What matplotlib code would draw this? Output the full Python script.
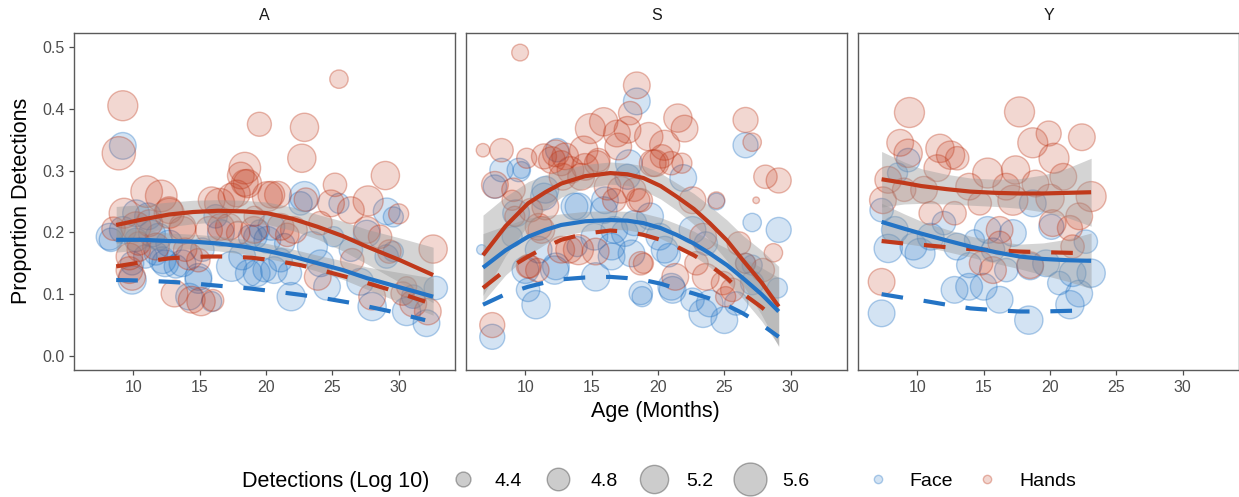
import numpy as np
import matplotlib
matplotlib.use("Agg")
import matplotlib.pyplot as plt
from matplotlib.lines import Line2D

plt.rcParams['font.family'] = ['Liberation Sans', 'DejaVu Sans']

# ---------------- data ----------------
panels = ["A", "S", "Y"]
x_ticks = [10, 15, 20, 25, 30]
y_ticks = [0.0, 0.1, 0.2, 0.3, 0.4, 0.5]
size_breaks = [4.4, 4.8, 5.2, 5.6]
groups = ["Face", "Hands"]

# Panel A
A_hands_age = [9.2, 8.9, 25.5, 19.5, 22.9, 22.7, 18.4, 18.1, 18.6, 11.0, 12.1, 29.0, 25.2, 17.8, 20.1, 20.9, 27.7, 32.6,
               30.0, 26.4, 24.9, 23.0, 9.3, 16.5, 8.5, 12.7, 10.2, 13.7, 15.7, 17.2, 19.1, 22.1, 21.6, 28.6, 27.6, 9.7,
               9.9, 10.4, 11.7, 14.9, 13.1, 15.1, 16.0, 23.9, 26.5, 28.0, 31.1, 32.2, 30.3, 29.3, 30.6, 13.9, 19.1, 24.1,
               12.7, 11.2, 13.7, 10.4, 14.2, 9.7, 14.4, 15.9, 17.4, 18.4, 20.4, 16.6, 17.9, 21.1]
A_hands_prop = [0.405, 0.328, 0.448, 0.375, 0.370, 0.320, 0.304, 0.292, 0.279, 0.266, 0.259, 0.292, 0.277, 0.263, 0.258,
                0.261, 0.251, 0.173, 0.230, 0.236, 0.247, 0.253, 0.231, 0.247, 0.206, 0.231, 0.209, 0.204, 0.204, 0.209,
                0.204, 0.204, 0.196, 0.193, 0.204, 0.161, 0.128, 0.182, 0.177, 0.155, 0.101, 0.088, 0.090, 0.128, 0.155,
                0.096, 0.085, 0.072, 0.101, 0.169, 0.112, 0.172, 0.226, 0.215,
                0.236, 0.215, 0.209, 0.172, 0.161, 0.139, 0.091, 0.252, 0.258, 0.280, 0.261, 0.209, 0.199, 0.209]
A_hands_det = [5.34, 5.63, 4.56, 4.89, 5.20, 5.20, 5.48, 5.08, 5.20, 5.48, 5.48, 5.20, 4.85, 5.08, 5.34, 5.08, 5.34, 5.20,
               4.65, 5.08, 5.08, 4.85, 5.34, 5.34, 4.85, 5.34, 5.34, 5.08, 5.08, 5.08, 5.08, 5.08, 4.85, 4.85, 5.08, 5.08,
               5.08, 4.85, 5.08, 4.85, 5.08, 5.20, 4.74, 5.08, 4.85, 5.08, 5.08, 5.08, 4.85, 4.85, 4.65, 4.85, 4.65, 4.85,
               5.08, 5.08, 5.08, 4.85, 5.08, 5.08, 5.08, 5.08, 5.08, 5.08, 5.08, 5.08, 4.85, 5.08]
A_face_age = [9.2, 8.3, 9.9, 9.2, 11.1, 12.2, 13.2, 14.9, 14.2, 15.9, 17.4, 18.2, 19.3, 20.6, 21.8, 21.9, 22.9, 22.6, 23.5,
              24.6, 24.1, 26.4, 25.5, 29.1, 29.1, 29.6, 27.1, 28.0, 30.6, 32.1, 32.8, 31.1, 29.6, 10.2, 11.4, 12.7, 15.2,
              16.2, 18.8, 20.1, 21.1, 21.4, 19.5, 25.1, 27.6, 9.9, 11.7,
              8.2, 10.2, 11.9, 10.9, 12.4, 13.7, 14.9, 18.7, 19.9, 16.6, 19.2, 20.4]
A_face_prop = [0.340, 0.188, 0.123, 0.204, 0.226, 0.155, 0.145, 0.123, 0.096, 0.088, 0.145, 0.161, 0.134, 0.139, 0.134,
               0.096, 0.258, 0.247, 0.177, 0.112, 0.150, 0.172, 0.247, 0.234, 0.161, 0.225, 0.120, 0.080, 0.072, 0.053,
               0.110, 0.096, 0.169, 0.188, 0.198, 0.182, 0.172, 0.226, 0.193, 0.188, 0.155, 0.182, 0.204, 0.193, 0.198,
               0.150, 0.166,
               0.193, 0.231, 0.193, 0.161, 0.150, 0.150, 0.128, 0.134, 0.139, 0.199, 0.193, 0.209]
A_face_det = [5.08, 4.85, 5.20, 5.08, 5.08, 5.08, 4.85, 5.08, 5.08, 4.65, 5.34, 5.08, 5.08, 5.08, 4.85, 5.20, 5.34, 4.85,
              5.34, 5.08, 5.08, 4.85, 4.65, 5.08, 4.85, 4.65, 5.08, 5.20, 5.20, 5.08, 4.85, 4.85, 4.65, 4.85, 5.08, 5.08,
              4.85, 4.85, 4.85, 5.08, 4.85, 4.65, 4.65, 4.65, 5.08, 4.85, 4.85,
              5.08, 5.08, 5.08, 4.85, 5.08, 5.08, 5.08, 5.08, 4.85, 5.08, 4.85, 5.08]

# Panel S
S_hands_age = [9.6, 6.8, 8.2, 10.1, 7.7, 9.1, 7.5, 18.4, 14.9, 15.9, 16.9, 17.7, 17.9, 19.3, 21.5, 22.0, 20.5, 26.6, 27.1,
               28.1, 29.1, 27.4, 28.7, 11.4, 12.3, 12.7, 13.4, 14.4, 15.4, 14.2, 16.2, 16.7, 18.2, 18.7, 19.6, 20.3, 21.0,
               21.8, 22.6, 24.4, 23.4, 10.4, 11.2, 12.7, 14.0, 15.3, 10.2, 10.9, 18.9, 21.3, 22.9, 23.6, 24.9, 25.6, 26.1,
               26.6, 27.9, 25.1, 9.0, 9.2,
               12.0, 13.0, 14.5, 15.5, 17.0, 19.8, 12.8, 17.2, 18.5, 11.5, 11.0, 13.3, 10.3, 18.7]
S_hands_prop = [0.491, 0.333, 0.333, 0.320, 0.277, 0.269, 0.050, 0.438, 0.368, 0.379, 0.360, 0.366, 0.393, 0.355, 0.385,
                0.368, 0.341, 0.382, 0.346, 0.290, 0.284, 0.252, 0.167, 0.323, 0.328, 0.312, 0.301, 0.333, 0.312, 0.290,
                0.274, 0.252, 0.269, 0.252, 0.312, 0.323, 0.312, 0.312, 0.252, 0.252, 0.193, 0.236, 0.204, 0.172, 0.172,
                0.169, 0.145, 0.139, 0.150, 0.128, 0.150, 0.128, 0.118, 0.107, 0.182, 0.150, 0.139, 0.096, 0.252, 0.226,
                0.317, 0.323, 0.306, 0.317, 0.339, 0.312, 0.290, 0.269, 0.252, 0.242, 0.209, 0.172, 0.145, 0.150]
S_hands_det = [4.48, 4.34, 4.85, 4.65, 5.08, 4.85, 4.96, 5.08, 5.34, 5.20, 5.08, 5.08, 4.85, 5.20, 5.20, 5.08, 5.34, 4.96,
               4.56, 4.85, 4.96, 4.15, 4.56, 4.96, 5.08, 4.96, 5.08, 5.20, 4.96, 5.08, 5.08, 4.85, 4.85, 4.85, 5.08, 4.85,
               4.85, 4.65, 5.08, 4.48, 5.08, 4.85, 5.08, 5.08, 5.34, 5.08, 4.85, 4.85, 4.65, 5.08, 4.85, 5.08, 4.85, 4.85,
               4.85, 4.65, 4.85, 4.65, 4.65, 4.65,
               5.08, 5.08, 5.08, 4.85, 5.08, 5.08, 5.08, 5.08, 4.85, 5.08, 5.08, 5.08, 4.85, 4.85]
S_face_age = [18.4, 26.6, 27.1, 29.1, 7.5, 6.7, 8.2, 7.7, 9.7, 12.4, 17.7, 21.9, 11.4, 9.3, 13.7, 15.9, 16.7, 15.2, 18.2,
              19.4, 20.8, 18.0, 16.5, 10.0, 12.2, 10.8, 10.2, 15.3, 18.8, 21.1, 22.6, 23.4, 23.9, 25.0, 25.9, 26.6, 27.1,
              29.0, 20.1, 22.6, 23.6, 24.4, 27.1, 9.0, 13.9,
              9.5, 11.5, 14.0, 16.0, 17.8, 17.5, 16.5, 11.0, 12.3, 18.7, 20.5, 21.0]
S_face_prop = [0.412, 0.341, 0.216, 0.204, 0.031, 0.172, 0.301, 0.274, 0.301, 0.333, 0.290, 0.288, 0.258, 0.231, 0.242,
               0.236, 0.204, 0.193, 0.215, 0.226, 0.163, 0.166, 0.177, 0.139, 0.139, 0.083, 0.107, 0.128, 0.096, 0.107,
               0.091, 0.069, 0.085, 0.058, 0.085, 0.150, 0.118, 0.110, 0.193, 0.204, 0.182, 0.250, 0.147, 0.193, 0.177,
               0.301, 0.269, 0.242, 0.252, 0.312, 0.199, 0.161, 0.172, 0.145, 0.102, 0.172, 0.112]
S_face_det = [5.08, 4.96, 4.56, 4.96, 4.96, 4.23, 4.85, 4.85, 4.48, 4.85, 4.96, 5.08, 5.08, 5.08, 5.08, 5.08, 5.08, 5.08,
              4.96, 5.08, 4.85, 5.08, 5.08, 5.08, 5.20, 5.20, 4.85, 5.20, 4.65, 5.08, 4.85, 5.20, 5.08, 5.08, 4.85, 4.65,
              4.85, 4.65, 5.08, 5.08, 4.85, 4.48, 4.65, 4.65, 4.65,
              4.85, 5.08, 5.08, 5.08, 5.08, 5.08, 5.08, 5.08, 5.08, 4.85, 5.08, 5.08]

# Panel Y
Y_hands_age = [9.4, 17.7, 22.4, 19.9, 18.7, 20.3, 8.7, 11.7, 12.5, 13.0, 9.3, 11.5, 15.3, 17.4, 7.3, 7.8, 7.4, 10.5, 13.9,
               14.7, 16.7, 17.2, 18.9, 20.0, 21.0, 23.1, 22.2, 21.5, 20.2, 21.7, 16.2, 15.7, 14.8, 18.5, 11.0, 12.8, 9.0,
               16.2]
Y_hands_prop = [0.394, 0.395, 0.354, 0.360, 0.345, 0.320, 0.345, 0.336, 0.325, 0.320, 0.328, 0.304, 0.296, 0.301, 0.120,
                0.285, 0.252, 0.269, 0.274, 0.247, 0.274, 0.252, 0.279, 0.255, 0.290, 0.258, 0.226, 0.207, 0.215, 0.177,
                0.204, 0.139, 0.150, 0.147, 0.231, 0.231, 0.269, 0.183]
Y_hands_det = [5.34, 5.34, 5.08, 4.96, 5.34, 5.34, 5.08, 5.20, 5.20, 4.85, 5.20, 5.08, 5.34, 5.20, 5.08, 5.08, 5.08, 5.08,
               5.08, 4.85, 5.08, 5.34, 5.08, 5.20, 5.08, 5.34, 5.08, 4.96, 5.08, 4.85, 5.08, 5.08, 4.85, 5.08, 4.85, 4.85,
               4.85, 4.85]
Y_face_age = [7.3, 18.4, 21.5, 7.8, 7.3, 8.3, 10.2, 9.7, 9.3, 11.0, 13.0, 12.8, 13.9, 15.0, 16.2, 13.9, 15.3, 17.2, 18.5,
              19.7, 20.7, 21.7, 22.2, 23.1, 22.7, 18.7, 20.1, 12.0, 14.3, 16.7, 15.7, 8.5]
Y_face_prop = [0.069, 0.058, 0.083, 0.174, 0.236, 0.204, 0.166, 0.177, 0.317, 0.193, 0.177, 0.107, 0.112, 0.112, 0.091,
               0.147, 0.204, 0.199, 0.145, 0.150, 0.118, 0.134, 0.101, 0.134, 0.185, 0.247, 0.209, 0.215, 0.188, 0.139,
               0.172, 0.296]
Y_face_det = [5.08, 5.20, 5.20, 5.20, 4.85, 5.08, 5.34, 5.08, 4.85, 5.08, 5.08, 5.08, 5.08, 5.08, 5.08, 4.96, 5.08, 5.08,
              5.08, 5.08, 4.85, 5.08, 5.08, 5.20, 4.85, 5.08, 4.96, 4.85, 4.65, 4.85, 4.85, 4.65]

# Fitted curves (solid, with confidence band) and model predictions (dashed)
A_fit_age = [8.7, 10.7, 12.7, 14.5, 16.4, 18.3, 20.1, 22.0, 23.9, 25.8, 27.6, 30.1, 32.6]
A_hands_fit = [0.212, 0.221, 0.229, 0.233, 0.235, 0.234, 0.231, 0.222, 0.209, 0.194, 0.177, 0.155, 0.131]
A_hands_se = [0.030, 0.024, 0.020, 0.019, 0.018, 0.018, 0.018, 0.019, 0.020, 0.024, 0.028, 0.036, 0.045]
A_face_fit = [0.188, 0.188, 0.186, 0.185, 0.182, 0.177, 0.170, 0.161, 0.150, 0.139, 0.126, 0.111, 0.096]
A_face_se = [0.020, 0.016, 0.013, 0.012, 0.012, 0.012, 0.012, 0.012, 0.013, 0.015, 0.018, 0.024, 0.030]
A_pred_age = [8.7, 10.7, 12.7, 14.2, 15.7, 17.3, 18.9, 20.8, 22.6, 24.5, 26.4, 29.2, 32.0]
A_hands_pred = [0.145, 0.152, 0.158, 0.160, 0.161, 0.161, 0.159, 0.154, 0.147, 0.137, 0.126, 0.108, 0.088]
A_face_pred = [0.123, 0.122, 0.120, 0.118, 0.115, 0.112, 0.109, 0.104, 0.099, 0.093, 0.086, 0.073, 0.058]

S_fit_age = [6.8, 8.5, 10.2, 11.5, 12.7, 14.5, 16.4, 17.7, 18.9, 20.2, 21.4, 22.7, 23.9, 25.2, 26.4, 27.8, 29.1]
S_hands_fit = [0.163, 0.210, 0.247, 0.265, 0.279, 0.291, 0.296, 0.294, 0.288, 0.275, 0.258, 0.238, 0.215, 0.187, 0.155,
               0.119, 0.080]
S_hands_se = [0.065, 0.048, 0.035, 0.028, 0.022, 0.019, 0.018, 0.018, 0.020, 0.021, 0.022, 0.025, 0.028, 0.033, 0.040,
              0.052, 0.065]
S_face_fit = [0.143, 0.171, 0.193, 0.204, 0.212, 0.218, 0.220, 0.219, 0.215, 0.207, 0.196, 0.182, 0.166, 0.147, 0.126,
              0.100, 0.072]
S_face_se = [0.055, 0.040, 0.030, 0.023, 0.018, 0.016, 0.015, 0.015, 0.016, 0.017, 0.018, 0.020, 0.022, 0.027, 0.033,
             0.043, 0.055]
S_hands_pred = [0.110, 0.139, 0.161, 0.176, 0.188, 0.198, 0.203, 0.201, 0.196, 0.188, 0.177, 0.163, 0.147, 0.126, 0.101,
                0.079, 0.056]
S_face_pred = [0.083, 0.100, 0.112, 0.119, 0.124, 0.127, 0.128, 0.126, 0.123, 0.117, 0.109, 0.101, 0.093, 0.082, 0.069,
               0.051, 0.031]

Y_fit_age = [7.3, 9.0, 10.3, 12.2, 14.0, 15.9, 17.7, 19.5, 21.3, 23.1]
Y_hands_fit = [0.286, 0.280, 0.275, 0.270, 0.266, 0.264, 0.263, 0.263, 0.264, 0.265]
Y_hands_se = [0.045, 0.034, 0.028, 0.024, 0.022, 0.022, 0.024, 0.030, 0.040, 0.055]
Y_face_fit = [0.217, 0.206, 0.198, 0.187, 0.177, 0.168, 0.161, 0.157, 0.155, 0.154]
Y_face_se = [0.030, 0.024, 0.020, 0.018, 0.017, 0.018, 0.020, 0.026, 0.034, 0.045]
Y_hands_pred = [0.186, 0.182, 0.180, 0.176, 0.173, 0.171, 0.169, 0.168, 0.167, 0.166]
Y_face_pred = [0.100, 0.094, 0.090, 0.083, 0.077, 0.074, 0.072, 0.072, 0.073, 0.074]

# ---------------- styling ----------------
BLUE = "#2474C5"
RED = "#C0391B"
col = {"Face": BLUE, "Hands": RED}


def to_area(v):
    return 373.0 * (np.asarray(v) - 4.09)


data = {
    "A": dict(Face=(A_face_age, A_face_prop, A_face_det), Hands=(A_hands_age, A_hands_prop, A_hands_det),
              fit_age=A_fit_age, fit=dict(Face=(A_face_fit, A_face_se), Hands=(A_hands_fit, A_hands_se)),
              pred_age=A_pred_age, pred=dict(Face=A_face_pred, Hands=A_hands_pred)),
    "S": dict(Face=(S_face_age, S_face_prop, S_face_det), Hands=(S_hands_age, S_hands_prop, S_hands_det),
              fit_age=S_fit_age, fit=dict(Face=(S_face_fit, S_face_se), Hands=(S_hands_fit, S_hands_se)),
              pred_age=S_fit_age, pred=dict(Face=S_face_pred, Hands=S_hands_pred)),
    "Y": dict(Face=(Y_face_age, Y_face_prop, Y_face_det), Hands=(Y_hands_age, Y_hands_prop, Y_hands_det),
              fit_age=Y_fit_age, fit=dict(Face=(Y_face_fit, Y_face_se), Hands=(Y_hands_fit, Y_hands_se)),
              pred_age=Y_fit_age, pred=dict(Face=Y_face_pred, Hands=Y_hands_pred)),
}

W, H = 1239, 497
fig = plt.figure(figsize=(W / 100, H / 100), dpi=100)
fig.patch.set_facecolor("white")

lefts = [74, 466, 858]
pw = 381
top, bottom = 33, 370
BORDER = "#5a5a5a"
TICKCOL = "#4d4d4d"

for i, p in enumerate(panels):
    ax = fig.add_axes([lefts[i] / W, 1 - bottom / H, pw / W, (bottom - top) / H])
    d = data[p]
    for g in groups:
        a, y, s = d[g]
        rgb = matplotlib.colors.to_rgb(col[g])
        ax.scatter(a, y, s=to_area(s), facecolor=rgb + (0.2,), edgecolor=rgb + (0.35,), linewidth=1.0, zorder=2)
    for g in ["Hands", "Face"]:
        f, se = d["fit"][g]
        f = np.asarray(f); se = np.asarray(se)
        ax.fill_between(d["fit_age"], f - se, f + se, color="#999999", alpha=0.42, linewidth=0, zorder=3)
    for g in ["Hands", "Face"]:
        f, se = d["fit"][g]
        ax.plot(d["fit_age"], f, color=col[g], lw=3.0, solid_capstyle="butt", zorder=5)
        ax.plot(d["pred_age"], d["pred"][g], color=col[g], lw=3.0, dashes=(5.2, 5.0), dash_capstyle="butt", zorder=4)

    ax.set_xlim(5.52, 34.25)
    ax.set_ylim(-0.0227, 0.5227)
    ax.set_xticks(x_ticks)
    ax.set_xticklabels([str(t) for t in x_ticks])
    ax.tick_params(axis="x", length=3.5, width=0.9, color=TICKCOL, labelsize=11.5, labelcolor=TICKCOL, pad=4)
    if i == 0:
        ax.set_yticks(y_ticks)
        ax.set_yticklabels([f"{t:.1f}" for t in y_ticks])
        ax.tick_params(axis="y", length=3.5, width=0.9, color=TICKCOL, labelsize=11.5, labelcolor=TICKCOL, pad=3.5)
    else:
        ax.set_yticks([])
    for sp in ax.spines.values():
        sp.set_color(BORDER)
        sp.set_linewidth(1.0)
    ax.text(0.5, 1 + (top - 15) / (bottom - top), p, transform=ax.transAxes, ha="center", va="center",
            fontsize=11.5, color="#1a1a1a")

fig.text(655 / W, 1 - 411 / H, "Age (Months)", ha="center", va="center", fontsize=15.5, color="black")
fig.text(22 / W, 1 - 201 / H, "Proportion Detections", ha="center", va="center", rotation=90, fontsize=15.5,
         color="black")

# legends
ly = 1 - 481 / H
fig.text(242 / W, ly, "Detections (Log 10)", ha="left", va="center", fontsize=15.5, color="black")
size_handles = [Line2D([], [], marker="o", linestyle="", markersize=float(np.sqrt(to_area(v))),
                       markerfacecolor=(0, 0, 0, 0.2), markeredgecolor=(0, 0, 0, 0.3), markeredgewidth=1.0)
                for v in size_breaks]
leg1 = fig.legend(size_handles, [f"{v:.1f}" for v in size_breaks], loc="center left",
                  bbox_to_anchor=(448 / W, ly), ncol=4, frameon=False, fontsize=14, handlelength=1.5,
                  handletextpad=0.9, columnspacing=1.12, borderpad=0, borderaxespad=0)
col_handles = [Line2D([], [], marker="o", linestyle="", markersize=6,
                      markerfacecolor=matplotlib.colors.to_rgb(col[g]) + (0.2,),
                      markeredgecolor=matplotlib.colors.to_rgb(col[g]) + (0.35,), markeredgewidth=1.0)
               for g in groups]
leg2 = fig.legend(col_handles, groups, loc="center left", bbox_to_anchor=(863 / W, ly), ncol=2, frameon=False,
                  fontsize=14, handlelength=1.5, handletextpad=0.9, columnspacing=1.0, borderpad=0,
                  borderaxespad=0)

fig.savefig("out.png", dpi=100)
